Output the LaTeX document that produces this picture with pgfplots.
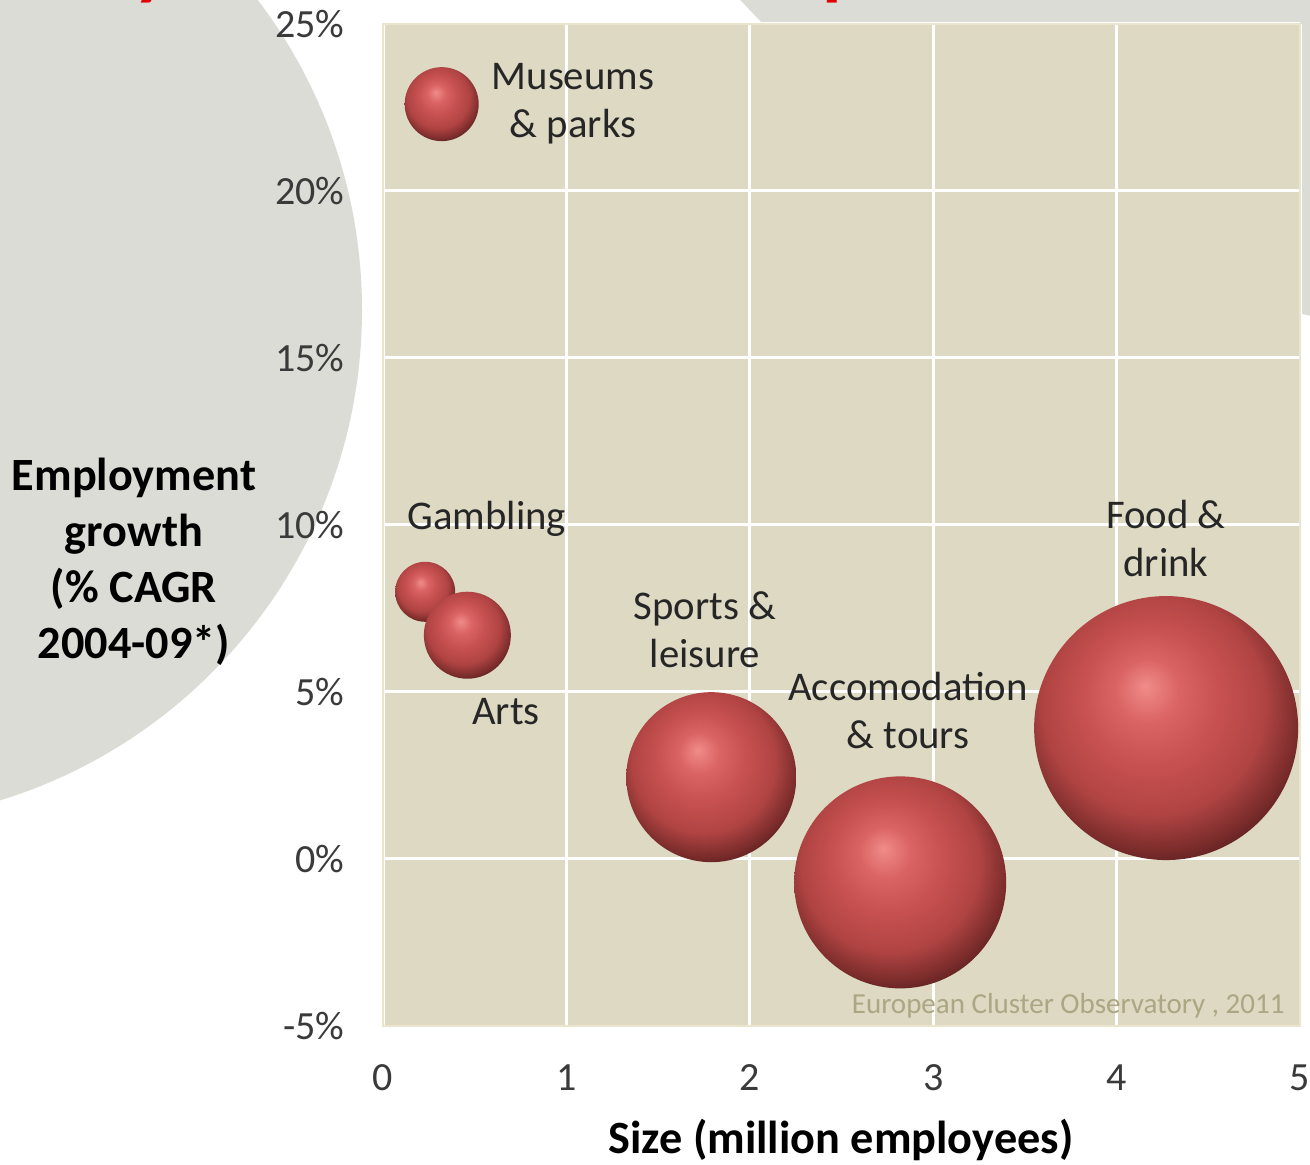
\documentclass[border=0pt]{standalone}
\usepackage{fontspec}
\setmainfont{Carlito}
\usepackage{pgfplots}
\usepackage{pgfplotstable}
\pgfplotsset{compat=1.18}
\definecolor{slidegray}{HTML}{DCDCD7}
\definecolor{plotbg}{HTML}{DDD9C3}
\definecolor{plotedge}{HTML}{EBE5CF}
\definecolor{ticktext}{HTML}{3A3A3A}
\definecolor{wm}{HTML}{ABA684}
\definecolor{titlered}{HTML}{E00000}
\definecolor{bhl}{HTML}{F08C8A}
\definecolor{bone}{HTML}{DA6463}
\definecolor{btwo}{HTML}{C75150}
\definecolor{bthree}{HTML}{B04443}
\definecolor{bfour}{HTML}{7A2C2B}
\definecolor{bfive}{HTML}{3A1212}
\pgfdeclareradialshading{bubbleshade}{\pgfpoint{-4bp}{8bp}}{color(0bp)=(bhl); color(6bp)=(bone); color(13bp)=(btwo); color(21bp)=(bthree); color(27bp)=(bfour); color(33bp)=(bfive); color(50bp)=(bfive)}
\pgfdeclareplotmark{bubble}{\pgfpathcircle{\pgfpointorigin}{\pgfplotmarksize}\pgfshadepath{bubbleshade}{0}\pgfusepath{}}

\pgfplotstableread{
x y r
0.32 22.6 14.8
0.23 8.0 12.0
0.46 6.7 17.4
1.79 2.45 34.0
2.82 -0.7 42.4
4.27 3.92 52.8
}\bubbles

\begin{document}
\begin{tikzpicture}
\useasboundingbox (0pt,0pt) rectangle (524pt,465.6pt);
\clip (0pt,0pt) rectangle (524pt,465.6pt);
\fill[white] (0pt,0pt) rectangle (524pt,465.6pt);
% slide background shapes
\fill[slidegray] (-60.4pt,341.6pt) circle (205.2pt);
\fill[slidegray] (600pt,745.6pt) circle (413.2pt);
% title fragments (cut off at top)
\node[anchor=base, inner sep=0pt, text=titlered, font=\bfseries\fontsize{32}{32}\selectfont] at (61pt,469.2pt) {y};
\node[anchor=base west, inner sep=0pt, text=titlered, font=\bfseries\fontsize{32}{32}\selectfont] at (328.6pt,469.2pt) {p};
\begin{axis}[
  at={(153.2pt,55.2pt)}, anchor=south west,
  scale only axis, width=366.8pt, height=400.8pt,
  xmin=0, xmax=5, ymin=-5, ymax=25,
  xtick={0,1,2,3,4,5}, ytick={-5,0,5,10,15,20,25},
  axis background/.style={fill=plotbg},
  axis line style={draw=plotedge, line width=1pt},
  grid=major, major grid style={white, line width=1.2pt},
  major tick length=0pt,
  clip=false,
  /pgf/number format/assume math mode=true,
  yticklabel={\pgfmathprintnumber{\tick}\%},
  ticklabel style={font=\fontsize{16}{18}\selectfont, text=ticktext},
  xticklabel style={anchor=center, yshift=-20.8pt},
  yticklabel style={anchor=east, inner sep=0pt, xshift=-15.2pt},
]
\addplot[scatter, only marks, mark=bubble,
  visualization depends on={\thisrow{r}\as\rr},
  scatter/@pre marker code/.append style={/tikz/mark size=\rr pt}]
  table[x=x, y=y] {\bubbles};
\begin{scope}[every node/.style={align=center, text=black!85, font=\fontsize{16.3}{19.2}\selectfont, inner sep=0pt}]
\node at (axis cs:1.036,22.6) {Museums\\\& parks};
\node at (axis cs:0.567,10.18) {Gambling};
\node at (axis cs:0.671,4.40) {Arts};
\node at (axis cs:1.756,6.86) {Sports \&\\leisure};
\node at (axis cs:2.863,4.46) {Accomodation\\\& tours};
\node at (axis cs:4.269,9.61) {Food \&\\drink};
\end{scope}
\node[anchor=east, inner sep=0pt, text=wm, font=\fontsize{11.6}{13}\selectfont] at (axis cs:4.918,-4.40) {European Cluster Observatory , 2011};
\end{axis}
\node[align=center, font=\bfseries\fontsize{18.5}{22.4}\selectfont, inner sep=0pt] at (53.6pt,240.8pt) {Employment\\growth\\(\% CAGR\\2004-09*)};
\node[font=\bfseries\fontsize{18.5}{22}\selectfont, inner sep=0pt] at (336.4pt,9.6pt) {Size (million employees)};
\end{tikzpicture}
\end{document}
